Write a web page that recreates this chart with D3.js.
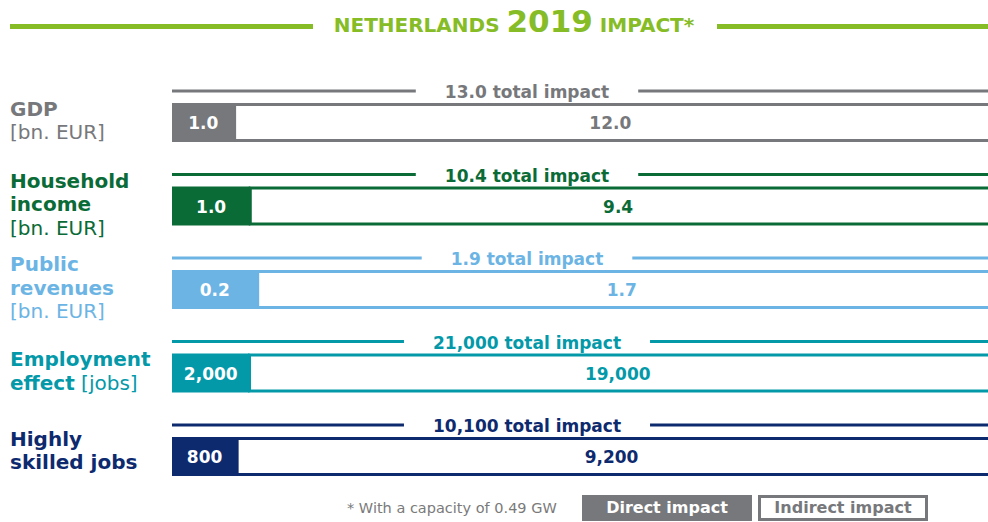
<!DOCTYPE html>
<html>
<head>
<meta charset="utf-8">
<script src="https://cdn.jsdelivr.net/npm/d3@7"></script>
<style>
  html, body { margin: 0; padding: 0; background: #ffffff; overflow: hidden; }
  svg { display: block; font-family: "DejaVu Sans", Verdana, sans-serif; }
</style>
</head>
<body>
<svg id="chart" width="988" height="522"></svg>
<script>
// Impact indicators, split into direct and indirect contributions
const categories = ["GDP", "Household income", "Public revenues", "Employment effect", "Highly skilled jobs"];
const labelLines = [
  [[["GDP", true]], [["[bn. EUR]", false]]],
  [[["Household", true]], [["income", true]], [["[bn. EUR]", false]]],
  [[["Public", true]], [["revenues", true]], [["[bn. EUR]", false]]],
  [[["Employment", true]], [["effect", true], [" [jobs]", false]]],
  [[["Highly", true]], [["skilled jobs", true]]]
];
const directValues = [1.0, 1.0, 0.2, 2000, 800];
const indirectValues = [12.0, 9.4, 1.7, 19000, 9200];
const totalValues = [13.0, 10.4, 1.9, 21000, 10100];
const valueFormats = [".1f", ".1f", ".1f", ",", ","];
const colors = ["#77787b", "#0a6b37", "#6cb4e4", "#0499a9", "#0e2a6f"];

const titleParts = ["NETHERLANDS ", "2019", " IMPACT*"];
const footnote = "* With a capacity of 0.49 GW";
const legendItems = ["Direct impact", "Indirect impact"];

const titleColor = "#86bc25";
const legendGray = "#77787b";

const svg = d3.select("#chart");

// Title with rules on both sides
const title = svg.append("text")
  .attr("x", 514).attr("y", 32)
  .attr("text-anchor", "middle")
  .attr("fill", titleColor)
  .attr("font-weight", "bold");
title.selectAll("tspan").data(titleParts).join("tspan")
  .attr("font-size", (d, i) => i === 1 ? 31 : 20)
  .text(d => d);
svg.append("line").attr("x1", 10).attr("x2", 313).attr("y1", 26.5).attr("y2", 26.5)
  .attr("stroke", titleColor).attr("stroke-width", 5);
svg.append("line").attr("x1", 717).attr("x2", 988).attr("y1", 26.5).attr("y2", 26.5)
  .attr("stroke", titleColor).attr("stroke-width", 5);

// Row layout
const barLeft = 172, barRight = 986, barH = 39;
const yRow = d3.scaleBand().domain(categories).range([103, 103 + 5 * 83.5]).paddingInner(0).paddingOuter(0);
const labelShift = [0, 0, 0, 0, -4];
const totalCenter = 527;

const rows = categories.map((c, i) => ({
  category: c,
  lines: labelLines[i],
  direct: directValues[i],
  indirect: indirectValues[i],
  total: totalValues[i],
  fmt: d3.format(valueFormats[i]),
  color: colors[i],
  i
}));

const g = svg.selectAll("g.row").data(rows).join("g").attr("class", "row");

g.each(function(d) {
  const row = d3.select(this);
  const top = yRow(d.category);
  const mid = top + barH / 2;
  const x = d3.scaleLinear().domain([0, d.direct + d.indirect]).range([barLeft, barRight]);

  // Category label
  const lineH = 23.5;
  const firstBase = mid - (d.lines.length - 1) * lineH / 2 + 5 + labelShift[d.i];
  const lab = row.append("text").attr("x", 10).attr("font-size", 20).attr("fill", d.color);
  d.lines.forEach((segs, li) => {
    segs.forEach((s, si) => {
      const t = lab.append("tspan").text(s[0]).attr("font-weight", s[1] ? "bold" : "normal");
      if (si === 0) t.attr("x", 10).attr("y", firstBase + li * lineH);
    });
  });

  // Indirect part: outlined box running past the right edge
  const sw = 3;
  row.append("rect")
    .attr("x", x(d.direct))
    .attr("y", top + sw / 2)
    .attr("width", x(d.direct + d.indirect) - x(d.direct) + 12)
    .attr("height", barH - sw)
    .attr("fill", "#fff")
    .attr("stroke", d.color)
    .attr("stroke-width", sw);

  // Direct part: filled box
  row.append("rect")
    .attr("x", x(0))
    .attr("y", top)
    .attr("width", x(d.direct) - x(0))
    .attr("height", barH)
    .attr("fill", d.color);

  // Value labels
  row.append("text")
    .attr("x", (x(0) + x(d.direct)) / 2)
    .attr("y", mid + 6.5)
    .attr("text-anchor", "middle")
    .attr("font-size", 17).attr("font-weight", "bold")
    .attr("fill", "#fff")
    .text(d.fmt(d.direct));
  row.append("text")
    .attr("x", (x(d.direct) + x(d.direct + d.indirect)) / 2)
    .attr("y", mid + 6.5)
    .attr("text-anchor", "middle")
    .attr("font-size", 17).attr("font-weight", "bold")
    .attr("fill", d.color)
    .text(d.fmt(d.indirect));

  // Total bracket above the bar
  const bracketY = top - 12;
  const tot = row.append("text")
    .attr("x", totalCenter)
    .attr("y", top - 5)
    .attr("text-anchor", "middle")
    .attr("font-size", 17).attr("font-weight", "bold")
    .attr("fill", d.color)
    .text(d.fmt(d.total) + " total impact");
  const bb = tot.node().getBBox();
  const gap = 29;
  row.append("line")
    .attr("x1", barLeft).attr("x2", bb.x - gap)
    .attr("y1", bracketY).attr("y2", bracketY)
    .attr("stroke", d.color).attr("stroke-width", 3);
  row.append("line")
    .attr("x1", bb.x + bb.width + gap).attr("x2", 988)
    .attr("y1", bracketY).attr("y2", bracketY)
    .attr("stroke", d.color).attr("stroke-width", 3);
});

// Footnote
svg.append("text")
  .attr("x", 347).attr("y", 513)
  .attr("font-size", 14.5)
  .attr("fill", "#7a7a7a")
  .text(footnote);

// Legend
svg.append("rect").attr("x", 582).attr("y", 495).attr("width", 170).attr("height", 26)
  .attr("fill", legendGray);
svg.append("text").attr("x", 667).attr("y", 513).attr("text-anchor", "middle")
  .attr("font-size", 16).attr("font-weight", "bold").attr("fill", "#fff")
  .text(legendItems[0]);
svg.append("rect").attr("x", 759.5).attr("y", 496.5).attr("width", 167).attr("height", 23)
  .attr("fill", "#fff").attr("stroke", legendGray).attr("stroke-width", 3);
svg.append("text").attr("x", 843).attr("y", 513).attr("text-anchor", "middle")
  .attr("font-size", 16).attr("font-weight", "bold").attr("fill", legendGray)
  .text(legendItems[1]);
</script>
</body>
</html>
